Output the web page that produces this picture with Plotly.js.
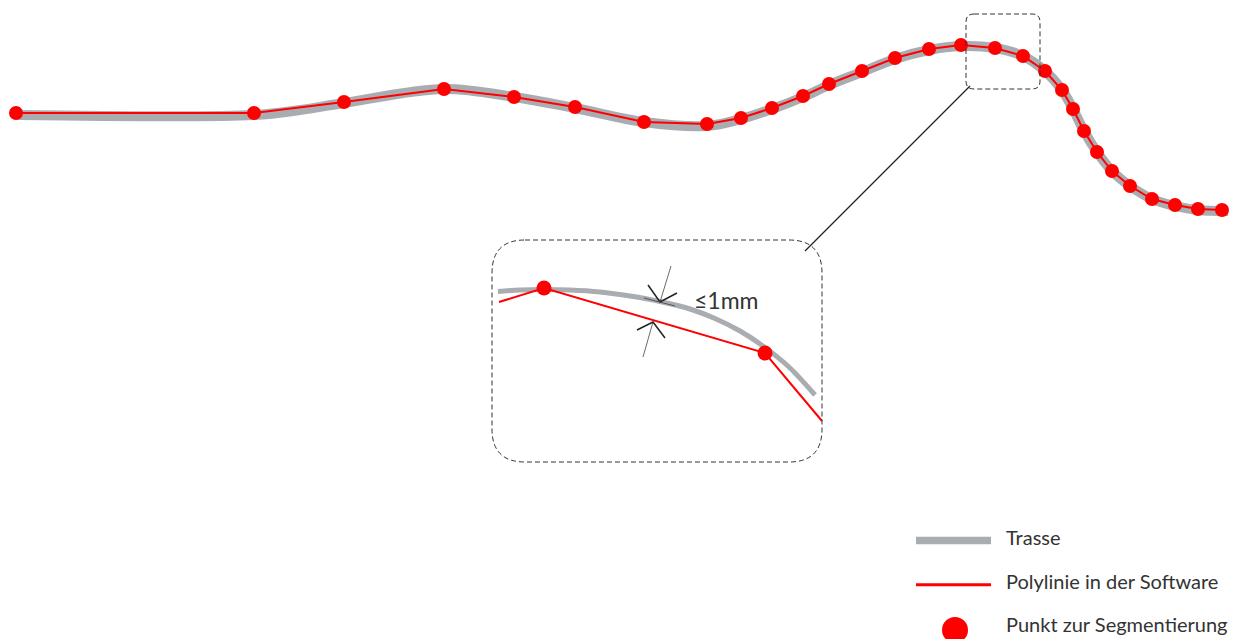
<!DOCTYPE html>
<html>
<head>
<meta charset="utf-8">
<script src="https://cdn.plot.ly/plotly-3.0.1.min.js"></script>
<style>html,body{margin:0;padding:0;background:#fff;}#chart{width:1233px;height:639px;}</style>
</head>
<body>
<div id="chart"></div>
<script>
// Segmentation points (picture coordinates, y downward)
var pointX = [16, 254, 344, 444, 514, 575, 644, 707, 741, 772, 803, 829, 862, 895, 929, 961, 995, 1023, 1045, 1062, 1073, 1084, 1097, 1112, 1130, 1152, 1175, 1198, 1222];
var pointY = [113, 113, 102, 89, 97, 107, 122, 124, 118, 108, 96, 84, 71, 58, 49, 45, 48, 56, 71, 90, 109, 131, 152, 171, 186, 199, 205, 209, 210];

// Route (Trasse) curve
var routeX = [18, 254, 300, 344, 444, 514, 575, 644, 707, 741, 772, 803, 829, 862, 895, 929, 961, 995, 1023, 1045, 1062, 1073, 1084, 1097, 1112, 1130, 1152, 1175, 1198, 1228];
var routeY = [115, 115, 110, 103, 89, 97, 108, 122, 126, 119, 109, 97, 85, 72, 59, 50, 46, 48, 56, 71, 90, 109, 131, 152, 171, 186, 199, 206, 210, 211];

// Inset (zoomed detail)
var insetRouteX = [498, 520, 543, 570, 600, 630, 660, 690, 715, 740, 763, 790, 815];
var insetRouteY = [291.5, 290, 289.5, 290, 292, 296, 301.5, 309, 318.5, 331, 346, 368, 395];
var insetPolyX = [499, 544, 765, 822];
var insetPolyY = [302, 288, 353, 421];
var insetPointX = [544, 765];
var insetPointY = [288, 353];

// Dimension arrows
var dimTopX = [671, 660], dimTopY = [266, 302];
var dimTopHeadX = [648, 660, 677], dimTopHeadY = [285, 302, 293];
var dimTopTickX = [644, 675], dimTopTickY = [298, 306];
var dimBotX = [643, 653], dimBotY = [357, 322];
var dimBotHeadX = [637, 653, 665], dimBotHeadY = [330, 322, 338];
var dimLabel = "≤1mm";

// Connector
var connX = [970, 805], connY = [86, 251];

// Legend
var legendLabels = ["Trasse", "Polylinie in der Software", "Punkt zur Segmentierung"];

var GRAY = "#a9adb2", RED = "#ff0000", DARK = "#222";

function rr(x0, y0, x1, y1, r) {
  return "M" + (x0 + r) + "," + y0 + " L" + (x1 - r) + "," + y0 + " Q" + x1 + "," + y0 + " " + x1 + "," + (y0 + r) +
    " L" + x1 + "," + (y1 - r) + " Q" + x1 + "," + y1 + " " + (x1 - r) + "," + y1 +
    " L" + (x0 + r) + "," + y1 + " Q" + x0 + "," + y1 + " " + x0 + "," + (y1 - r) +
    " L" + x0 + "," + (y0 + r) + " Q" + x0 + "," + y0 + " " + (x0 + r) + "," + y0 + " Z";
}

var traces = [
  {x: routeX, y: routeY, mode: "lines", line: {color: GRAY, width: 10, shape: "spline", smoothing: 1}, hoverinfo: "skip"},
  {x: pointX, y: pointY, mode: "lines+markers", line: {color: RED, width: 2}, marker: {color: RED, size: 14}, hoverinfo: "skip"},
  {x: insetRouteX, y: insetRouteY, mode: "lines", line: {color: GRAY, width: 5, shape: "spline", smoothing: 0.8}, hoverinfo: "skip"},
  {x: insetPolyX, y: insetPolyY, mode: "lines", line: {color: RED, width: 2}, hoverinfo: "skip"},
  {x: insetPointX, y: insetPointY, mode: "markers", marker: {color: RED, size: 15}, hoverinfo: "skip"},
  {x: dimTopX, y: dimTopY, mode: "lines", line: {color: "#444", width: 0.8}, hoverinfo: "skip"},
  {x: dimTopHeadX, y: dimTopHeadY, mode: "lines", line: {color: DARK, width: 1.5}, hoverinfo: "skip"},
  {x: dimTopTickX, y: dimTopTickY, mode: "lines", line: {color: "#555", width: 1}, hoverinfo: "skip"},
  {x: dimBotX, y: dimBotY, mode: "lines", line: {color: "#444", width: 0.8}, hoverinfo: "skip"},
  {x: dimBotHeadX, y: dimBotHeadY, mode: "lines", line: {color: DARK, width: 1.5}, hoverinfo: "skip"},
  {x: connX, y: connY, mode: "lines", line: {color: DARK, width: 1.2}, hoverinfo: "skip"},
  {x: [955], y: [630], mode: "markers", marker: {color: RED, size: 26}, hoverinfo: "skip"}
];

var layout = {
  width: 1233, height: 639,
  margin: {l: 0, r: 0, t: 0, b: 0},
  paper_bgcolor: "#fff", plot_bgcolor: "#fff",
  showlegend: false,
  xaxis: {range: [0, 1233], visible: false, fixedrange: true},
  yaxis: {range: [639, 0], visible: false, fixedrange: true},
  shapes: [
    {type: "path", path: rr(966, 14, 1040, 89, 8), line: {color: "#333", width: 1, dash: "5px,3px"}},
    {type: "path", path: rr(492, 240, 822, 462, 33), line: {color: "#333", width: 1, dash: "5px,3px"}},
    {type: "line", x0: 916, x1: 991, y0: 540.5, y1: 540.5, line: {color: GRAY, width: 7.5}},
    {type: "line", x0: 916, x1: 991, y0: 584.7, y1: 584.7, line: {color: RED, width: 3}}
  ],
  annotations: [
    {x: 692, y: 300, text: dimLabel, showarrow: false, xanchor: "left", yanchor: "middle", font: {family: "Lato", size: 23, color: "#333"}},
    {x: 1004, y: 537, text: legendLabels[0], showarrow: false, xanchor: "left", yanchor: "middle", font: {family: "Lato", size: 20, color: "#333"}},
    {x: 1004, y: 581, text: legendLabels[1], showarrow: false, xanchor: "left", yanchor: "middle", font: {family: "Lato", size: 20, color: "#333"}},
    {x: 1004, y: 624, text: legendLabels[2], showarrow: false, xanchor: "left", yanchor: "middle", font: {family: "Lato", size: 20, color: "#333"}}
  ]
};

Plotly.newPlot("chart", traces, layout, {staticPlot: true, displayModeBar: false});
</script>
</body>
</html>
